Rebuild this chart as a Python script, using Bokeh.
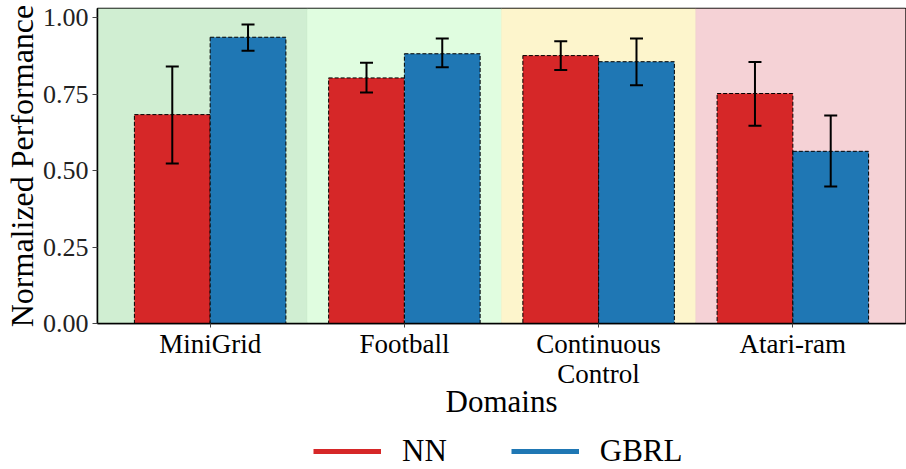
import numpy as np
from bokeh.plotting import figure
from bokeh.layouts import column
from bokeh.models import (ColumnDataSource, Range1d, FixedTicker, Whisker, TeeHead,
                          BoxAnnotation, Legend, LegendItem)
from bokeh.embed import file_html
from bokeh.resources import INLINE

domains = ["MiniGrid", "Football", "Continuous\nControl", "Atari-ram"]
nn_mean = [0.683, 0.803, 0.876, 0.752]
nn_lo = [0.523, 0.755, 0.829, 0.647]
nn_hi = [0.840, 0.853, 0.923, 0.855]
gbrl_mean = [0.936, 0.882, 0.856, 0.563]
gbrl_lo = [0.892, 0.838, 0.779, 0.448]
gbrl_hi = [0.978, 0.932, 0.932, 0.680]
band_colors = ["#d0eed2", "#e0fde0", "#fdf5cc", "#f5d2d6"]
band_edges = ["#bfe8c1", "#cdf5cd", "#f6ecb4", "#f0c3c6"]
y_ticks = [0.0, 0.25, 0.5, 0.75, 1.0]

NN_COLOR = "#d62728"
GBRL_COLOR = "#1f77b4"
FONT = "Liberation Serif"
BAR_W = 0.39
W = 906

idx = np.arange(len(domains))

p = figure(width=W, height=421, output_backend="svg", toolbar_location=None,
           x_range=Range1d(-0.58, 3.58), y_range=Range1d(0, 1.03),
           min_border_left=97, min_border_right=1, min_border_top=8, min_border_bottom=0)

# background bands per domain
for i, (c, ec) in enumerate(zip(band_colors, band_edges)):
    kw = {}
    if i > 0:
        kw["left"] = idx[i] - 0.5
    if i < len(domains) - 1:
        kw["right"] = idx[i] + 0.5
    p.add_layout(BoxAnnotation(fill_color=c, fill_alpha=1.0, line_color=ec,
                               line_width=1, level="underlay", **kw))

src_nn = ColumnDataSource(dict(x=idx - BAR_W / 2, top=nn_mean, lo=nn_lo, hi=nn_hi))
src_gb = ColumnDataSource(dict(x=idx + BAR_W / 2, top=gbrl_mean, lo=gbrl_lo, hi=gbrl_hi))

p.vbar(x="x", top="top", width=BAR_W, source=src_nn, fill_color=NN_COLOR,
       line_color="black", line_dash="4 2", line_width=1)
p.vbar(x="x", top="top", width=BAR_W, source=src_gb, fill_color=GBRL_COLOR,
       line_color="black", line_dash="4 2", line_width=1)

for src in (src_nn, src_gb):
    w = Whisker(base="x", lower="lo", upper="hi", source=src, level="annotation",
                line_color="black", line_width=2,
                upper_head=TeeHead(size=13, line_width=2, line_color="black"),
                lower_head=TeeHead(size=13, line_width=2, line_color="black"))
    p.add_layout(w)

p.xgrid.visible = False
p.ygrid.visible = False
p.outline_line_color = "black"
p.outline_line_width = 1.5
p.outline_line_alpha = 1.0

p.xaxis.ticker = FixedTicker(ticks=list(idx))
p.xaxis.major_label_overrides = {int(i): d for i, d in zip(idx, domains)}
p.xaxis.minor_tick_line_color = None
p.xaxis.major_tick_in = 0
p.xaxis.major_tick_out = 4
p.xaxis.major_tick_line_color = "#444444"
p.xaxis.axis_line_color = "black"
p.xaxis.axis_line_width = 1.5
p.xaxis.major_label_text_font = FONT
p.xaxis.major_label_text_font_size = "27px"
p.xaxis.major_label_text_color = "black"
p.xaxis.major_label_text_line_height = 1.0
p.xaxis.major_label_standoff = 1
p.xaxis.axis_label = "Domains"
p.xaxis.axis_label_text_font = FONT
p.xaxis.axis_label_text_font_size = "31px"
p.xaxis.axis_label_text_font_style = "normal"
p.xaxis.axis_label_text_color = "black"
p.xaxis.axis_label_standoff = -8

p.yaxis.ticker = FixedTicker(ticks=y_ticks)
p.yaxis.major_label_overrides = {t: f"{t:.2f}" for t in y_ticks}
p.yaxis.minor_tick_line_color = None
p.yaxis.major_tick_in = 0
p.yaxis.major_tick_out = 5
p.yaxis.major_tick_line_color = "#444444"
p.yaxis.axis_line_color = "black"
p.yaxis.axis_line_width = 1.5
p.yaxis.major_label_text_font = FONT
p.yaxis.major_label_text_font_size = "26px"
p.yaxis.major_label_text_color = "#222222"
p.yaxis.major_label_standoff = 4
p.yaxis.axis_label = "Normalized Performance"
p.yaxis.axis_label_text_font = FONT
p.yaxis.axis_label_text_font_size = "32px"
p.yaxis.axis_label_text_font_style = "normal"
p.yaxis.axis_label_text_color = "black"
p.yaxis.axis_label_standoff = 0

# separate legend strip below the chart
leg = figure(width=W, height=48, output_backend="svg", toolbar_location=None,
             x_range=Range1d(0, 1), y_range=Range1d(0, 1),
             min_border=0, outline_line_color=None)
leg.axis.visible = False
leg.grid.visible = False
r_nn = leg.line(x=[np.nan], y=[np.nan], line_color=NN_COLOR, line_width=5)
r_gb = leg.line(x=[np.nan], y=[np.nan], line_color=GBRL_COLOR, line_width=5)
legend = Legend(items=[LegendItem(label="NN", renderers=[r_nn]),
                       LegendItem(label="GBRL", renderers=[r_gb])],
                orientation="horizontal", location=(216, 0),
                label_text_font=FONT, label_text_font_size="31px",
                label_text_color="black",
                glyph_width=68, glyph_height=20, label_standoff=21, spacing=64,
                border_line_color=None, background_fill_alpha=0,
                padding=0, margin=0)
leg.add_layout(legend, "center")

open("out.html", "w").write(file_html(column(p, leg, spacing=0), INLINE))
